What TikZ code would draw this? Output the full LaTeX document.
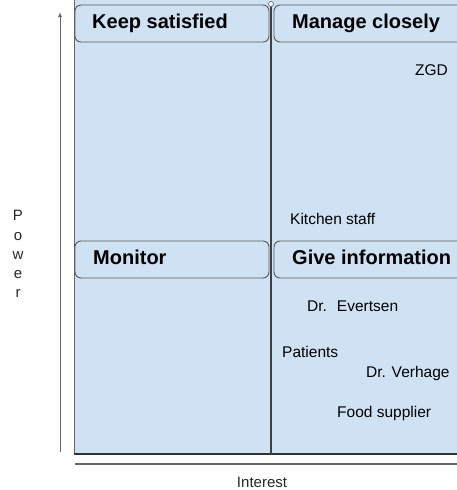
\documentclass[tikz,border=0pt]{standalone}
\usepackage{fontspec}
\setmainfont{Liberation Sans}
\usetikzlibrary{arrows.meta}
\definecolor{quadfill}{HTML}{CFE2F3}
\definecolor{edgegray}{HTML}{595959}
\definecolor{axisgray}{HTML}{666666}
\tikzset{
  headbox/.style={draw=edgegray, line width=0.9pt, fill=quadfill, rounded corners=6pt},
  headtext/.style={anchor=base west, inner sep=0pt, font=\fontsize{20}{22}\selectfont\bfseries, text=black},
  party/.style={anchor=base west, inner sep=0pt, font=\fontsize{15.5}{17}\selectfont, text=black},
  axislabel/.style={inner sep=0pt, anchor=base, font=\fontsize{15}{18}\selectfont, text=black!85},
}
\begin{document}
\begin{tikzpicture}[x=1pt, y=-1pt]
  \useasboundingbox (0,0) rectangle (457,490);
  \clip (0,0) rectangle (457,490);

  % grid background
  \fill[quadfill] (74,0) rectangle (470,454);
  \draw[axisgray, line width=1pt] (74,0) -- (74,454);
  \draw[black!80, line width=1.2pt] (74,454) -- (470,454);

  % quadrant divider
  \coordinate (divtop) at (271,4);
  \coordinate (divbot) at (271,454);
  \draw[black!75, line width=1.3pt] (divtop) -- (divbot);
  \draw[edgegray, fill=white, line width=0.6pt] (divtop) circle (2.5pt);

  % quadrant headers
  \path[headbox] (75,5) rectangle (269,42);
  \node[headtext] (ks) at (92,28) {Keep satisfied};
  \path[headbox] (274,5) rectangle (475,42);
  \node[headtext] (mc) at (292,28) {Manage closely};
  \path[headbox] (75,241) rectangle (269,278);
  \node[headtext] (mo) at (93,264) {Monitor};
  \path[headbox] (274,241) rectangle (475,278);
  \node[headtext] (gi) at (292,264) {Give information};

  % stakeholders
  \node[party] (zgd) at (415,75) {ZGD};
  \node[party] (kit) at (290,224) {Kitchen staff};
  \node[party] (eve) at (307,311) {Dr.\hspace{10pt}Evertsen};
  \node[party] (pat) at (282,357) {Patients};
  \node[party] (ver) at (366,377) {Dr. Verhage};
  \node[party] (food) at (337,417) {Food supplier};

  % axes
  \coordinate (pbot) at (60,452);
  \coordinate (ptop) at (60,12);
  \draw[axisgray, line width=1pt, -{Latex[length=5pt,width=4pt]}] (pbot) -- (ptop);
  \coordinate (ileft) at (75,464);
  \coordinate (iright) at (470,464);
  \draw[axisgray, line width=1.2pt] (ileft) -- (iright);

  \node[axislabel] (interest) at (262,487) {Interest};
  \node[axislabel] (pw1) at (18,220) {P};
  \node[axislabel] (pw2) at (18,240) {o};
  \node[axislabel] (pw3) at (18,259) {w};
  \node[axislabel] (pw4) at (18,278) {e};
  \node[axislabel] (pw5) at (18,297) {r};
\end{tikzpicture}
\end{document}
